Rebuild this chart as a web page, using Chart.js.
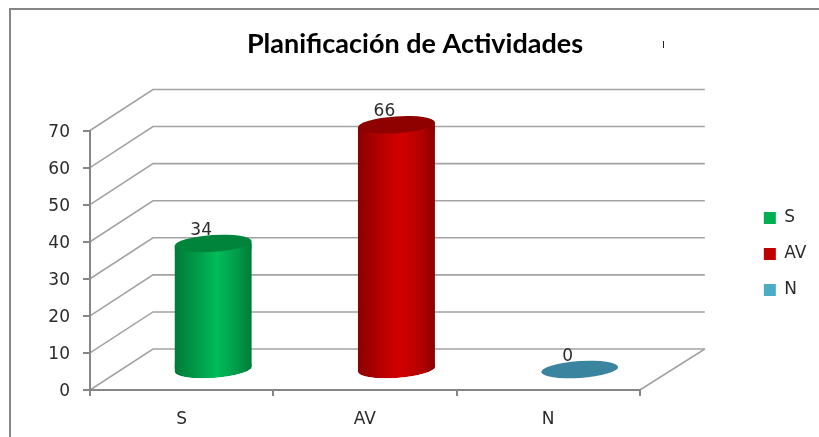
<!DOCTYPE html>
<html><head><meta charset="utf-8">
<style>html,body{margin:0;padding:0;background:#fff}canvas{display:block}</style>
<script src="https://cdn.jsdelivr.net/npm/chart.js@4"></script>
</head><body><canvas id="c" width="819" height="437"></canvas>
<script>
const titleText = "Planificación de Actividades";
const categories = ["S", "AV", "N"];
const values = [34, 66, 0];
const legendColors = ["#00b050", "#c00000", "#4bacc6"];
const edgeColors = ["#007a38", "#8a0000", "#2f7088"];
const shoulderColors = ["#009a48", "#b40000", "#3a84a0"];
const midColors = ["#00bc5a", "#d20000", "#4a9ab5"];
const capColors = ["#00843c", "#8f0000", "#3a84a0"];

const FONT = "'DejaVu Sans'";
const TEXT = "#2b2b2b";
const AXIS = "#868686";
const WALL = "#a3a3a3";
const DEPTH_X = 63, DEPTH_Y = -41, WALL_EXTRA = 2;   // depth of the 3D box
const MID_X = 31.5, MID_Y = -20.5;      // plane the cylinders stand on
const BAR_W = 77, CAP_RY = 8.4, TILT = -3.8 * Math.PI / 180;
const TILT_DY = Math.tan(TILT) * BAR_W / 2;
const LEGEND_SHIFT = 39, LABEL_SHIFT = 2;

function ellipse(ctx, cx, cy) {
  ctx.beginPath();
  ctx.ellipse(cx, cy, BAR_W / 2, CAP_RY, TILT, 0, Math.PI * 2);
}
function barGradient(chart, i) {
  const cx = chart.scales.x.getPixelForValue(i);
  const g = chart.ctx.createLinearGradient(cx - BAR_W / 2, 0, cx + BAR_W / 2, 0);
  g.addColorStop(0, edgeColors[i]);
  g.addColorStop(0.28, shoulderColors[i]);
  g.addColorStop(0.55, midColors[i]);
  g.addColorStop(0.82, shoulderColors[i]);
  g.addColorStop(1, edgeColors[i]);
  return g;
}

const scene = {
  id: "scene",
  afterLayout(chart) {
    const l = chart.legend;
    l.top += LEGEND_SHIFT; l.bottom += LEGEND_SHIFT;
    const y = chart.scales.y;
    if (!y._shifted) {
      y._shifted = true;
      const orig = y.drawLabels;
      y.drawLabels = function (area) {
        chart.ctx.save(); chart.ctx.translate(0, LABEL_SHIFT);
        orig.call(y, area);
        chart.ctx.restore();
      };
    }
  },
  beforeDraw(chart) {
    const ctx = chart.ctx, { x, y } = chart.scales;
    ctx.save();
    // outer frame
    ctx.strokeStyle = AXIS; ctx.lineWidth = 2;
    ctx.beginPath(); ctx.moveTo(10, chart.height); ctx.lineTo(10, 9); ctx.lineTo(chart.width, 9); ctx.stroke();
    // small stray mark next to the title
    ctx.strokeStyle = "#222"; ctx.lineWidth = 1;
    ctx.beginPath(); ctx.moveTo(663.5, 41); ctx.lineTo(663.5, 48); ctx.stroke();
    // back wall and floor
    const L = x.left, R = x.right + DEPTH_X + WALL_EXTRA;
    ctx.strokeStyle = WALL; ctx.lineWidth = 1.6;
    for (const t of y.ticks) {
      const py = y.getPixelForValue(t.value);
      ctx.beginPath(); ctx.moveTo(L, py); ctx.lineTo(L + DEPTH_X, py + DEPTH_Y); ctx.lineTo(R, py + DEPTH_Y);
      ctx.stroke();
    }
    const p0 = y.getPixelForValue(0);
    ctx.beginPath(); ctx.moveTo(R, p0 + DEPTH_Y); ctx.lineTo(x.right, p0); ctx.stroke();
    // value labels, partly hidden behind the cylinder caps
    ctx.fillStyle = TEXT; ctx.font = "17px " + FONT; ctx.textAlign = "center"; ctx.textBaseline = "middle";
    values.forEach((v, i) => {
      ctx.fillText(String(v), x.getPixelForValue(i) + MID_X - 12, y.getPixelForValue(v) + MID_Y - 13);
    });
    ctx.restore();
  },
  beforeDatasetsDraw(chart) {
    const ctx = chart.ctx, meta = chart.getDatasetMeta(0);
    ctx.save();
    ctx.translate(MID_X, MID_Y);
    const b = chart.scales.y.getPixelForValue(0);
    // cut the square ends of each bar along the tilted ellipses
    ctx.beginPath();
    meta.data.forEach(el => {
      const l = el.x - BAR_W / 2, r = el.x + BAR_W / 2;
      ctx.moveTo(l, el.y - TILT_DY); ctx.lineTo(r, el.y + TILT_DY); ctx.lineTo(r, b + TILT_DY); ctx.lineTo(l, b - TILT_DY); ctx.closePath();
      ctx.moveTo(r, b);
      ctx.ellipse(el.x, b, BAR_W / 2, CAP_RY, TILT, 0, Math.PI * 2);
    });
    ctx.clip();
    meta.data.forEach((el, i) => {
      if (values[i] === 0) return;
      const l = el.x - BAR_W / 2, r = el.x + BAR_W / 2;
      ctx.fillStyle = barGradient(chart, i);
      ellipse(ctx, el.x, b); ctx.fill();
      ctx.beginPath();
      ctx.moveTo(l, b - 6); ctx.lineTo(r, b - 6); ctx.lineTo(r, b + TILT_DY); ctx.lineTo(l, b - TILT_DY); ctx.closePath();
      ctx.fill();
      ctx.beginPath();
      ctx.moveTo(l, el.y - TILT_DY); ctx.lineTo(r, el.y + TILT_DY); ctx.lineTo(r, el.y + 6); ctx.lineTo(l, el.y + 6); ctx.closePath();
      ctx.fill();
    });
  },
  afterDatasetsDraw(chart) {
    const ctx = chart.ctx, meta = chart.getDatasetMeta(0);
    ctx.restore();
    ctx.save();
    ctx.translate(MID_X, MID_Y);
    meta.data.forEach((el, i) => {
      ctx.fillStyle = capColors[i];
      ellipse(ctx, el.x, el.y); ctx.fill();
    });
    ctx.restore();
  }
};

new Chart(document.getElementById("c"), {
  type: "bar",
  data: {
    labels: categories,
    datasets: [{
      data: values,
      barThickness: BAR_W,
      borderWidth: 0,
      clip: false,
      backgroundColor: c => c.chart.chartArea ? barGradient(c.chart, c.dataIndex) : edgeColors[c.dataIndex]
    }]
  },
  options: {
    responsive: false,
    animation: false,
    layout: { padding: { left: 13.5, right: 2.5, top: 0, bottom: 7 } },
    plugins: {
      title: {
        display: true, text: titleText, color: "#000",
        font: { family: "Lato", weight: "bold", size: 27 },
        padding: { top: 28, bottom: 70.1 }
      },
      legend: {
        display: true, position: "right",
        labels: {
          boxWidth: 12, boxHeight: 12, padding: 19, color: TEXT,
          font: { family: FONT, size: 17 },
          generateLabels: () => categories.map((t, i) => ({
            text: t, fillStyle: legendColors[i], strokeStyle: legendColors[i], lineWidth: 0, fontColor: TEXT, index: i
          }))
        }
      },
      tooltip: { enabled: false }
    },
    scales: {
      x: {
        afterFit(s) { s.height = 40; },
        grid: { drawOnChartArea: false, drawTicks: true, tickLength: 6, color: AXIS, lineWidth: 2 },
        border: { display: true, color: AXIS, width: 2 },
        ticks: { color: TEXT, font: { family: FONT, size: 17 }, padding: 13, maxRotation: 0 }
      },
      y: {
        min: 0, max: 70,
        afterFit(s) { s.width = 76.5; },
        grid: { drawOnChartArea: false, drawTicks: true, tickLength: 7, color: AXIS, lineWidth: 2 },
        border: { display: true, color: AXIS, width: 2 },
        ticks: { stepSize: 10, color: TEXT, font: { family: FONT, size: 17 }, padding: 13 }
      },
      legendGap: {
        position: "right", display: true, min: 0, max: 1,
        afterFit(s) { s.width = 105; },
        grid: { display: false }, border: { display: false }, ticks: { display: false }
      }
    }
  },
  plugins: [scene]
});
</script></body></html>
